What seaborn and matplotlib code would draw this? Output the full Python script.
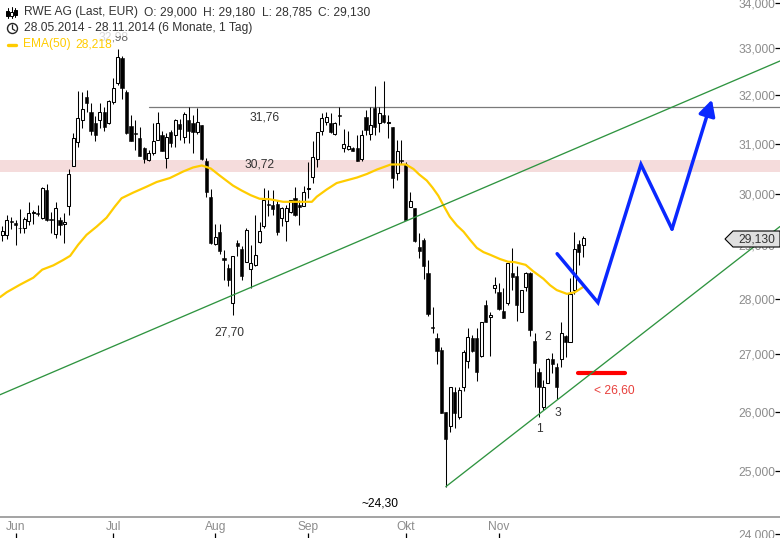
import matplotlib
matplotlib.use("Agg")
import matplotlib.pyplot as plt
from matplotlib.patches import Polygon, Rectangle, Ellipse
from matplotlib.ticker import NullLocator, NullFormatter
import numpy as np
import pandas as pd
import seaborn as sns

# ---- values (EUR) ----
opens = [29.20,29.20,29.47,29.43,29.34,29.33,29.46,29.63,29.63,29.52,30.08,29.51,29.21,29.48,29.41,29.75,30.54,31.04,31.48,31.96,
 31.66,31.42,31.48,31.65,31.42,31.87,32.25,32.80,32.08,31.37,31.22,31.12,30.91,30.68,30.81,31.08,31.18,30.71,31.23,31.17,
 31.40,31.13,31.49,31.42,31.23,31.39,30.64,29.94,29.03,29.26,28.76,28.57,27.92,29.04,28.93,28.68,28.56,28.62,29.07,29.36,
 29.80,29.78,29.80,29.53,29.47,29.65,29.92,29.78,29.76,30.10,30.32,30.70,31.26,31.45,31.43,31.20,31.59,30.92,30.90,30.92,
 30.92,30.70,31.55,31.20,31.74,31.43,31.59,31.43,31.35,30.40,30.68,30.58,29.74,29.72,28.97,29.10,28.47,27.49,27.29,27.08,
 26.00,25.75,26.34,25.90,26.42,26.87,27.29,27.29,26.97,27.89,27.66,28.20,28.13,27.78,27.93,28.48,28.43,27.76,28.22,28.47,
 27.24,26.69,26.08,26.50,26.92,26.78,26.92,27.33,27.22,28.17,29.03,29.00]
highs = [29.36,29.58,29.54,29.49,29.69,29.54,29.84,29.67,29.78,30.14,30.20,29.65,29.84,29.54,29.62,30.48,31.22,32.09,32.08,32.11,
 31.84,31.56,31.84,31.76,31.91,32.36,32.98,32.83,32.11,31.59,31.49,31.35,30.94,30.88,31.42,31.66,31.25,31.22,31.28,31.51,
 31.51,31.66,31.76,31.59,31.74,31.39,30.72,30.10,29.41,29.40,28.91,28.65,28.80,29.10,28.99,29.33,29.01,29.59,29.45,30.12,
 30.08,30.08,29.88,29.74,29.78,29.88,30.14,29.88,30.16,30.62,31.06,31.24,31.63,31.65,31.63,31.45,31.76,31.30,31.26,30.94,
 31.18,31.28,31.70,31.76,32.20,31.76,32.31,31.59,31.35,31.08,31.08,30.62,30.04,29.72,29.24,29.14,28.73,27.84,27.38,27.13,
 26.00,26.43,26.42,26.42,27.08,27.46,27.35,27.46,27.58,27.98,27.75,28.40,28.30,28.19,28.67,28.95,28.60,28.17,28.50,28.50,
 27.37,26.76,26.55,26.94,27.02,26.85,27.58,27.35,28.38,29.26,29.10,29.18]
lows = [29.08,29.12,29.32,29.01,29.24,29.24,29.38,29.40,29.57,29.51,29.46,29.24,29.14,29.20,29.05,29.59,30.54,30.94,31.32,31.65,
 31.18,31.06,31.32,31.25,31.41,31.82,32.22,31.93,31.20,31.06,30.88,30.75,30.61,30.64,30.78,31.08,30.86,30.51,30.94,30.94,
 31.08,31.01,31.01,30.81,31.20,30.68,29.94,29.03,29.01,28.83,28.35,28.23,27.70,28.80,28.35,28.68,28.20,28.60,29.05,29.34,
 29.57,29.59,29.20,29.36,29.08,29.63,29.57,29.38,29.76,29.92,30.22,30.52,31.18,31.39,31.22,31.18,31.39,30.84,30.88,30.86,
 30.64,30.64,31.18,31.08,31.18,31.24,31.43,31.12,30.12,30.28,30.58,29.49,29.74,29.06,28.76,28.37,27.69,27.38,26.83,25.98,
 24.75,25.65,25.73,25.88,26.35,26.76,27.04,26.52,26.95,27.57,26.97,28.11,27.80,27.64,27.89,28.17,27.60,27.75,28.15,27.33,
 26.42,25.91,26.03,26.50,26.67,26.22,26.78,26.95,27.22,28.09,28.63,28.785]
closes = [29.28,29.49,29.44,29.38,29.33,29.50,29.62,29.65,29.60,30.12,29.48,29.48,29.72,29.39,29.45,30.38,31.11,31.52,31.71,31.84,
 31.25,31.17,31.65,31.35,31.88,32.15,32.81,32.15,31.21,31.06,31.20,30.76,30.69,30.82,31.06,31.42,30.86,31.13,31.01,31.48,
 31.30,31.61,31.25,31.23,31.44,30.69,30.04,29.05,29.16,28.90,28.72,28.34,28.79,28.99,28.42,29.30,28.66,28.81,29.28,29.88,
 29.77,29.69,29.26,29.71,29.71,29.87,29.59,29.74,30.04,30.12,30.74,31.24,31.53,31.55,31.24,31.43,31.57,31.00,30.96,30.86,
 30.66,31.18,31.28,31.39,31.35,31.64,31.45,31.45,30.30,30.86,30.64,29.49,29.86,29.08,28.89,28.60,27.73,27.47,27.06,25.98,
 25.53,26.43,25.98,26.38,27.04,27.31,27.06,26.68,27.58,27.58,27.71,28.26,27.82,27.64,28.67,28.41,27.89,28.17,28.47,27.44,
 26.85,26.42,26.42,26.92,26.83,26.43,27.38,27.22,28.09,28.93,28.88,29.13]

ema_days = [-0.5,1,4,7,9,11.5,13.7,15.3,17.1,19,21.3,23.5,25.4,26.9,29.5,32.6,34.8,37.8,40.8,43,45,47,49,52,54,56,58,60.3,63.3,68.7,69.8,
 70.9,73.1,75.4,80,82.2,84.5,87.6,91,92.7,94,95.7,97,98.3,99.4,100.9,102.5,104,105.5,107,108.5,110,112.2,114,115.6,118,119.7,122,
 123.5,125,127.3,129.1,131]
ema_vals = [28.03,28.12,28.26,28.39,28.54,28.62,28.72,28.80,29.01,29.20,29.36,29.53,29.75,29.91,30.02,30.14,30.23,30.31,30.44,30.52,30.56,
 30.50,30.36,30.16,30.06,29.97,29.90,29.89,29.84,29.84,29.84,
 29.94,30.08,30.21,30.32,30.39,30.48,30.58,30.58,30.49,30.38,30.26,30.12,29.96,29.78,29.55,29.38,29.26,29.10,28.95,28.87,28.82,28.74,
 28.69,28.68,28.63,28.51,28.37,28.25,28.16,28.09,28.12,28.218]

upper_trend_days = [-0.52, 175.35]
upper_trend_vals = [26.29, 32.73]
lower_trend_days = [100, 175.35]
lower_trend_vals = [24.75, 29.36]
forecast_days = [125.1, 134.3, 144.0, 151.0, 160.0]
forecast_vals = [28.84, 27.93, 30.58, 29.31, 31.91]
stop_days = [129.8, 140.4]
stop_vals = [26.67, 26.67]
resistance_start = 33
resistance = 31.76
band_low, band_high = 30.42, 30.68

y_ticks = [24, 25, 26, 27, 28, 29, 30, 31, 32, 33, 34]
y_labels = ["24,000", "25,000", "26,000", "27,000", "28,000", "29,000", "30,000", "31,000", "32,000", "33,000", "34,000"]
month_days = [3, 25, 48, 69, 91, 112]
month_labels = ["Jun", "Jul", "Aug", "Sep", "Okt", "Nov"]

notes = [("31,76", 59.2, 31.53), ("30,72", 57.9, 30.58), ("27,70", 51.1, 27.38),
         ("1", 121.2, 25.71), ("2", 123.0, 27.31), ("3", 125.3, 25.98)]

header_items = [("RWE AG (Last, EUR)", 23.5), ("O: 29,000", 144), ("H: 29,180", 202.7),
                ("L: 28,785", 261.7), ("C: 29,130", 318.3)]

# ---- figure ----
sns.set_theme(style="white")
plt.rcParams["font.family"] = ["Liberation Sans", "DejaVu Sans"]
W, H = 780, 538
FS = 8.64
fig = plt.figure(figsize=(W / 100, H / 100), dpi=100)
ax = fig.add_axes([0, 0, 1, 1])
ax.set_yscale("log")
ax.set_xlim(-0.52, 175.35)
ax.set_ylim(23.93, 34.067)
for s in ax.spines.values():
    s.set_visible(False)


def px(x, y):
    return x / W, 1 - y / H


T = ax.transAxes
days = np.arange(len(closes))
df = pd.DataFrame({"day": days, "open": opens, "high": highs, "low": lows, "close": closes})
df["top"] = df[["open", "close"]].max(axis=1)
df["bot"] = df[["open", "close"]].min(axis=1)
up = df["close"] >= df["open"]

ax.axhspan(band_low, band_high, color="#f5dcdc", lw=0, zorder=1)
ax.plot([resistance_start, 175.35], [resistance, resistance], color="#7a7a7a", lw=0.9, zorder=2)

wicks = ax.vlines(df["day"], df["low"], df["high"], color="black", lw=0.75, zorder=3)
wicks.set_snap(True)
ax.bar(df["day"][up], (df["top"] - df["bot"])[up], bottom=df["bot"][up], width=0.68,
       facecolor="white", edgecolor="black", lw=0.75, zorder=4)
ax.bar(df["day"][~up], (df["top"] - df["bot"])[~up], bottom=df["bot"][~up], width=0.72,
       facecolor="black", edgecolor="black", lw=0.4, zorder=4)

ema_df = pd.DataFrame({"day": ema_days, "ema": ema_vals})
sns.lineplot(data=ema_df, x="day", y="ema", ax=ax, color="#ffcc00", lw=1.6, zorder=5, legend=False)
sns.lineplot(x=upper_trend_days, y=upper_trend_vals, ax=ax, color="#2f9440", lw=0.95, zorder=6)
sns.lineplot(x=lower_trend_days, y=lower_trend_vals, ax=ax, color="#2f9440", lw=0.95, zorder=6)

ax.plot(stop_days, stop_vals, color="#ff0000", lw=3.0, solid_capstyle="round", zorder=5.5)
ax.plot(forecast_days[:-1], forecast_vals[:-1], color="#0a28ff", lw=2.5, solid_joinstyle="miter", zorder=7)
ax.annotate("", xy=(forecast_days[-1], forecast_vals[-1]), xytext=(forecast_days[-2], forecast_vals[-2]),
            arrowprops=dict(arrowstyle="-|>,head_length=0.95,head_width=0.5", color="#0a28ff", lw=2.5,
                            shrinkA=0, shrinkB=0, mutation_scale=10), zorder=7)

for txt, d, v in notes:
    ax.text(d, v, txt, fontsize=FS, color="#333333", ha="center", va="center", zorder=8)
ax.text(85.2, 24.48, "~24,30", fontsize=FS, color="black", ha="center", va="center", zorder=8)
ax.text(137.9, 26.36, "< 26,60", fontsize=FS, color="#e8403c", ha="center", va="center", zorder=8)

# axes ticks inside the frame
ax.set_yticks(y_ticks)
ax.set_yticklabels(y_labels)
ax.yaxis.set_minor_locator(NullLocator())
ax.yaxis.set_minor_formatter(NullFormatter())
ax.yaxis.tick_right()
ax.tick_params(axis="y", direction="in", length=3.5, width=0.9, color="black", labelcolor="#8c8c8c",
               labelsize=FS, pad=-3.5, right=True)
for lab in ax.get_yticklabels():
    lab.set_ha("right")
ax.set_xticks(month_days)
ax.set_xticklabels(month_labels)
ax.tick_params(axis="x", direction="in", length=3.5, width=0.9, color="black", labelcolor="#8c8c8c",
               labelsize=FS, pad=-12.0, bottom=True)
ax.set_xlabel("")
ax.set_ylabel("")
ax.plot([0, 1], [px(0, 516.7)[1]] * 2, transform=T, color="#8a8a8a", lw=1.1, zorder=3, clip_on=False)

# wash behind header (32,98 peak label sits beneath it)
ax.text(*px(113.5, 37.5), "32,98", transform=T, fontsize=FS, color="#666666", ha="center", va="center", zorder=9)
ax.add_patch(Rectangle(px(0, 36), 258 / W, 36 / H, transform=T, fc="white", alpha=0.75, lw=0, zorder=9.5))
ax.add_patch(Rectangle(px(0, 52), 113 / W, 16 / H, transform=T, fc="white", alpha=0.75, lw=0, zorder=9.5))

# header
for txt, x0 in header_items:
    ax.text(*px(x0, 12.5), txt, transform=T, fontsize=FS, color="#333333", va="center", zorder=10)
ax.text(*px(23.5, 28.5), "28.05.2014 - 28.11.2014 (6 Monate, 1 Tag)", transform=T,
        fontsize=FS, color="#333333", va="center", zorder=10)
ax.text(*px(23.5, 44.5), "EMA(50)", transform=T, fontsize=FS, color="#ffcc00", va="center", zorder=10)
ax.text(*px(75.5, 44.5), "28,218", transform=T, fontsize=FS, color="#ffcc00", va="center", zorder=10)

# header icons
for x0, a, b, c, d, fill in [(7.5, 8, 18, 10.5, 15.5, "black"), (11.5, 7, 18, 12, 16, "white"), (15.5, 8, 17, 10, 15, "black")]:
    ax.plot(*zip(px(x0, a), px(x0, b)), transform=T, color="black", lw=0.75, zorder=10)
    ax.add_patch(Rectangle(px(x0 - 1.2, d), 2.4 / W, (d - c) / H, transform=T, fc=fill, ec="black", lw=0.7, zorder=11))
cx, cy = px(12.5, 28.5)
ax.add_patch(Ellipse((cx, cy), 10 / W, 10 / H, transform=T, fc="none", ec="#222222", lw=1.0, zorder=10))
ax.plot(*zip(px(12.5, 25), px(12.5, 29), px(15, 30.5)), transform=T, color="#222222", lw=0.9, zorder=10)
ax.plot(*zip(px(8, 44.5), px(16, 44.5)), transform=T, color="#ffcc00", lw=2.4, solid_capstyle="round", zorder=10)

# last price tag
tag = [px(725, 239), px(733, 231), px(780, 231), px(780, 247), px(733, 247)]
ax.add_patch(Polygon(tag, closed=True, transform=T, fc="#e0e0e0", ec="black", lw=0.8, zorder=10, clip_on=False))
ax.text(*px(775, 239.5), "29,130", transform=T, fontsize=FS, color="#333333", ha="right", va="center", zorder=11)

fig.savefig("out.png", dpi=100)
